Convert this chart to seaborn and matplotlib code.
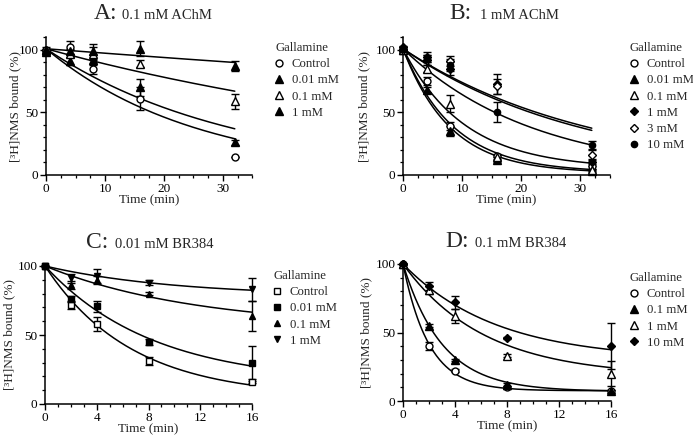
import numpy as np
import pandas as pd
import seaborn as sns
import matplotlib
matplotlib.use("Agg")
import matplotlib.pyplot as plt
from matplotlib.lines import Line2D
from matplotlib.ticker import MultipleLocator

# ---- panel A: 0.1 mM AChM ----
A_times = [0, 4, 8, 16, 32]
A_labels = ["Control", "0.01 mM", "0.1 mM", "1 mM"]
A_control = [100, 102, 85, 61, 14]
A_control_err = [2, 5, 4, 9, 0]
A_g001 = [98, 91, 92, 70, 26]
A_g001_err = [2, 3, 4, 7, 2]
A_g01 = [100, 97, 97, 89, 59]
A_g01_err = [1, 3, 5, 3, 6]
A_g1 = [100, 99, 99, 101, 87.5]
A_g1_err = [1, 2, 6, 6, 4]
# fitted curves: start, plateau, rate (1/min)
A_fit_start = [101, 101, 101, 101]
A_fit_plateau = [0, 0, 0, 0]
A_fit_rate = [0.0036, 0.0128, 0.0314, 0.039]

# ---- panel B: 1 mM AChM ----
B_times = [0, 4, 8, 16, 32]
B_labels = ["Control", "0.01 mM", "0.1 mM", "1 mM", "3 mM", "10 mM"]
B_control = [100, 75, 39, 15, 7]
B_control_err = [1, 3, 3, 2, 2]
B_g001 = [100, 68, 35, 12, 3]
B_g001_err = [2, 2, 4, 2, 1]
B_g01 = [100, 85, 57, 14, 4]
B_g01_err = [1, 3, 7, 2, 1]
B_g1 = [102, 94, 85, 73, 10]
B_g1_err = [1, 4, 5, 8, 3]
B_g3 = [100, 92, 91, 71, 16]
B_g3_err = [1, 4, 4, 6, 4]
B_g10 = [101, 93, 88, 50, 24]
B_g10_err = [1, 3, 5, 8, 3]
B_fit_start = [101, 101, 101, 101, 101, 101]
B_fit_plateau = [0, 0, 0, 5, 2, 1.5]
B_fit_rate = [0.031, 0.0325, 0.045, 0.096, 0.1165, 0.125]

# ---- panel C: 0.01 mM BR384 ----
C_times = [0, 2, 4, 8, 16]
C_labels = ["Control", "0.01 mM", "0.1 mM", "1 mM"]
C_control = [100, 72, 58, 31, 16]
C_control_err = [0, 3, 5, 3, 1]
C_g001 = [100, 76, 71, 45, 30]
C_g001_err = [0, 2, 4, 2, 12]
C_g01 = [100, 86, 90, 80, 64]
C_g01_err = [0, 3, 3, 1, 11]
C_g1 = [100, 91, 93, 88, 83]
C_g1_err = [0, 3, 5, 2, 8]
C_fit_start = [100, 100, 100, 100]
C_fit_plateau = [5, 15, 55, 78]
C_fit_rate = [0.15, 0.12, 0.085, 0.1]

# ---- panel D: 0.1 mM BR384 ----
D_times = [0, 2, 4, 8, 16]
D_labels = ["Control", "0.1 mM", "1 mM", "10 mM"]
D_control = [100, 40, 22, 10, 7]
D_control_err = [0, 3, 1, 1, 1]
D_g01 = [100, 55, 30, 12, 7]
D_g01_err = [0, 1, 1, 1, 1]
D_g1 = [100, 81, 62, 33, 20]
D_g1_err = [0, 3, 5, 1, 9]
D_g10 = [100, 84, 72, 46, 40]
D_g10_err = [0, 3, 5, 1, 17]
D_fit_start = [100, 100, 100, 100]
D_fit_plateau = [7.5, 7, 18, 30]
D_fit_rate = [0.5, 0.33, 0.16, 0.14]

# marker styles: (marker, filled, size)
OPEN_CIRCLE = ("o", False, 5)
FILL_TRI = ("^", True, 5.5)
OPEN_TRI = ("^", False, 5.5)
FILL_DIAM = ("D", True, 4)
OPEN_DIAM = ("D", False, 4)
FILL_CIRCLE = ("o", True, 4.5)
OPEN_SQ = ("s", False, 5)
FILL_SQ = ("s", True, 5)
SMALL_TRI = ("^", True, 4.5)
INV_TRI = ("v", True, 5)

sns.set_theme(style="ticks")
plt.rcParams["font.family"] = ["Liberation Serif", "DejaVu Serif"]
plt.rcParams.update({
    "axes.linewidth": 1.1,
    "xtick.major.size": 4, "ytick.major.size": 4,
    "xtick.minor.size": 2.2, "ytick.minor.size": 2.2,
    "xtick.major.width": 1.0, "ytick.major.width": 1.0,
    "xtick.minor.width": 0.9, "ytick.minor.width": 0.9,
    "xtick.direction": "out", "ytick.direction": "out",
    "xtick.labelsize": 9.5, "ytick.labelsize": 9.5,
    "xtick.major.pad": 1.5, "ytick.major.pad": 1.5,
    "axes.edgecolor": "black", "xtick.color": "black", "ytick.color": "black",
})

W, H = 693, 437
fig = plt.figure(figsize=(W / 100, H / 100), dpi=100)


def px_axes(left, right, top, bottom):
    return fig.add_axes([left / W, 1 - bottom / H, (right - left) / W, (bottom - top) / H])


def draw_panel(ax, times, series, errs, styles, labels, fit_start, fit_plateau, fit_rate,
               xmax, xmajor, xminor, ymax, legend_xy, ylabel_x):
    t_fit = np.linspace(0, times[-1], 200)
    frames = []
    for i, (s, p, k) in enumerate(zip(fit_start, fit_plateau, fit_rate)):
        frames.append(pd.DataFrame({"t": t_fit, "y": p + (s - p) * np.exp(-k * t_fit), "curve": i}))
    curves = pd.concat(frames)
    sns.lineplot(data=curves, x="t", y="y", units="curve", estimator=None,
                 color="black", lw=1.1, ax=ax, legend=False)

    handles = []
    for vals, err, (m, filled, ms) in zip(series, errs, styles):
        ax.errorbar(times, vals, yerr=err, fmt="none", ecolor="black", elinewidth=1.0,
                    capsize=3, capthick=1.0, clip_on=False, zorder=3)
        fc = "black" if filled else "white"
        ax.plot(times, vals, ls="none", marker=m, ms=ms, mfc=fc, mec="black", mew=1.0,
                clip_on=False, zorder=4)
        handles.append(Line2D([], [], ls="none", marker=m, ms=ms, mfc=fc, mec="black", mew=1.0))

    ax.set_xlim(0, xmax)
    ax.set_ylim(0, ymax)
    ax.xaxis.set_major_locator(MultipleLocator(xmajor))
    ax.xaxis.set_minor_locator(MultipleLocator(xminor))
    ax.yaxis.set_major_locator(MultipleLocator(50))
    ax.yaxis.set_minor_locator(MultipleLocator(10))
    ax.set_xlabel("Time (min)", fontsize=9.5, labelpad=-0.5)
    ax.set_ylabel("[³H]NMS bound (%)", fontsize=9.5)
    ax.yaxis.set_label_coords(ylabel_x, 0.5)
    sns.despine(ax=ax)
    ax.grid(False)

    ax.legend(handles, labels, title="Gallamine", loc="upper left",
              bbox_to_anchor=(legend_xy[0] / W, 1 - legend_xy[1] / H),
              bbox_transform=fig.transFigure, frameon=False, fontsize=9.2, title_fontsize=9.2,
              alignment="left", borderpad=0, borderaxespad=0, labelspacing=0.33,
              handlelength=0.7, handletextpad=0.6)


axA = px_axes(46, 252.5, 37.5, 175)
draw_panel(axA, A_times, [A_control, A_g001, A_g01, A_g1],
           [A_control_err, A_g001_err, A_g01_err, A_g1_err],
           [OPEN_CIRCLE, FILL_TRI, OPEN_TRI, FILL_TRI], A_labels,
           A_fit_start, A_fit_plateau, A_fit_rate, 35, 10, 2.5, 110, (275, 42), -0.118)

axB = px_axes(403, 609.5, 37.5, 175)
draw_panel(axB, B_times, [B_control, B_g001, B_g01, B_g1, B_g3, B_g10],
           [B_control_err, B_g001_err, B_g01_err, B_g1_err, B_g3_err, B_g10_err],
           [OPEN_CIRCLE, FILL_TRI, OPEN_TRI, FILL_DIAM, OPEN_DIAM, FILL_CIRCLE], B_labels,
           B_fit_start, B_fit_plateau, B_fit_rate, 35, 10, 2.5, 110, (630, 42), -0.16)

axC = px_axes(45, 252, 266, 404)
draw_panel(axC, C_times, [C_control, C_g001, C_g01, C_g1],
           [C_control_err, C_g001_err, C_g01_err, C_g1_err],
           [OPEN_SQ, FILL_SQ, SMALL_TRI, INV_TRI], C_labels,
           C_fit_start, C_fit_plateau, C_fit_rate, 16, 4, 1, 100, (273, 270), -0.145)

axD = px_axes(403, 611, 264, 401)
draw_panel(axD, D_times, [D_control, D_g01, D_g1, D_g10],
           [D_control_err, D_g01_err, D_g1_err, D_g10_err],
           [OPEN_CIRCLE, FILL_TRI, OPEN_TRI, FILL_DIAM], D_labels,
           D_fit_start, D_fit_plateau, D_fit_rate, 16, 4, 1, 100, (630, 272), -0.15)

# panel titles: big letter + smaller condition
titles = [("A:", "0.1 mM AChM", 117, 122, 19),
          ("B:", "1 mM AChM", 471, 480, 19),
          ("C:", "0.01 mM BR384", 108, 115, 248),
          ("D:", "0.1 mM BR384", 469, 475, 247)]
for letter, cond, xr, xl, yb in titles:
    fig.text(xr / W, 1 - yb / H, letter, ha="right", va="baseline", fontsize=17)
    fig.text(xl / W, 1 - yb / H, cond, ha="left", va="baseline", fontsize=10.5)

fig.savefig("out.png", dpi=100)
